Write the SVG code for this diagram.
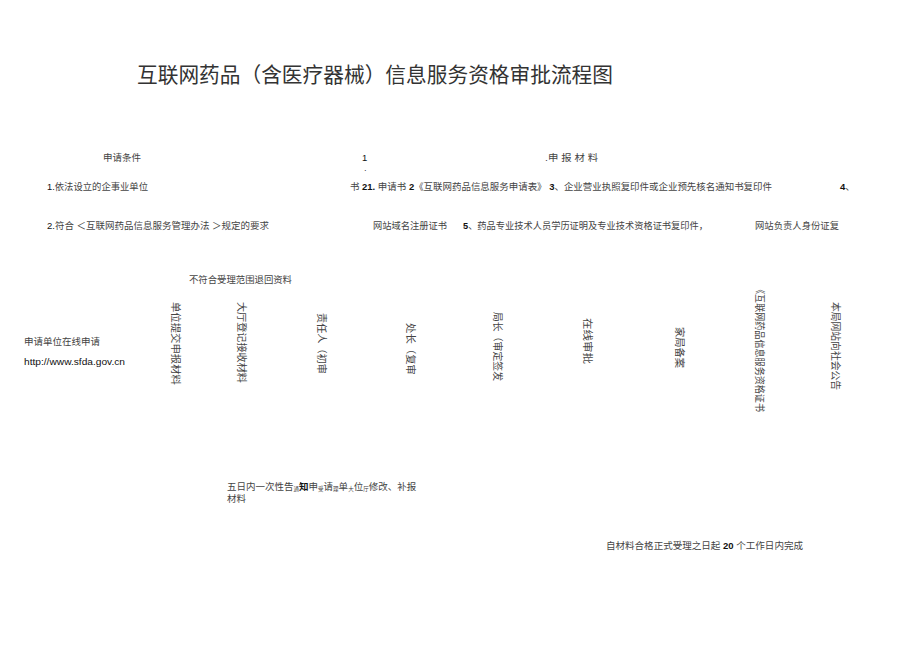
<svg xmlns="http://www.w3.org/2000/svg" width="920" height="651" viewBox="0 0 920 651">
<style>
text{font-family:"Liberation Sans","Noto Sans CJK SC",sans-serif;fill:#444;font-size:9.5px}
.title{font-size:21px;fill:#333}
.v{font-size:10px}
.s{font-size:5.5px}
.b{font-weight:bold;fill:#111}
.n{fill:#111}
</style>
<rect width="920" height="651" fill="#fff"/>
<g id="title"><text class="title" x="137" y="82" textLength="476" lengthAdjust="spacingAndGlyphs">互联网药品（含医疗器械）信息服务资格审批流程图</text></g>
<g id="conditions">
<text x="103" y="160.5">申请条件</text>
<text x="47" y="189.5" textLength="101" lengthAdjust="spacingAndGlyphs"><tspan class="n">1.</tspan>依法设立的企事业单位</text>
<text x="47" y="228.5" textLength="222" lengthAdjust="spacingAndGlyphs"><tspan class="n">2.</tspan>符合 ＜互联网药品信息服务管理办法 ＞规定的要求</text>
</g>
<g id="materials">
<text class="n" x="362" y="161">1</text>
<text x="364" y="171" font-size="6">.</text>
<text x="545" y="160.5" textLength="53" lengthAdjust="spacingAndGlyphs">.申 报 材 料</text>
<text x="350" y="189.5" textLength="422" lengthAdjust="spacingAndGlyphs">书 <tspan class="b">21.</tspan> 申请书 <tspan class="b">2</tspan>《互联网药品信息服务申请表》 <tspan class="b">3</tspan>、企业营业执照复印件或企业预先核名通知书复印件</text>
<text x="840" y="189.5"><tspan class="b">4</tspan>、</text>
<text x="373" y="229" textLength="74" lengthAdjust="spacingAndGlyphs">网站域名注册证书</text>
<text x="463" y="229" textLength="245" lengthAdjust="spacingAndGlyphs"><tspan class="b">5</tspan>、药品专业技术人员学历证明及专业技术资格证书复印件，</text>
<text x="755" y="229" textLength="84" lengthAdjust="spacingAndGlyphs">网站负责人身份证复</text>
</g>
<g id="reject"><text x="189" y="282.5" textLength="103" lengthAdjust="spacingAndGlyphs">不符合受理范围退回资料</text></g>
<g id="online">
<text x="24" y="344.5">申请单位在线申请</text>
<text class="n" x="24" y="364.5" textLength="101" lengthAdjust="spacingAndGlyphs">http://www.sfda.gov.cn</text>
</g>
<g id="step1"><text class="v" transform="translate(172,302) rotate(90)" textLength="83" lengthAdjust="spacingAndGlyphs">单位提交申报材料</text></g>
<g id="step2"><text class="v" transform="translate(238,302) rotate(90)" textLength="81" lengthAdjust="spacingAndGlyphs">大厅登记接收材料</text></g>
<g id="step3"><text class="v" transform="translate(318,313) rotate(90)" textLength="61" lengthAdjust="spacingAndGlyphs">责任人（初审</text></g>
<g id="step4"><text class="v" transform="translate(407,323) rotate(90)" textLength="52" lengthAdjust="spacingAndGlyphs">处长（复审</text></g>
<g id="step5"><text class="v" transform="translate(494,312) rotate(90)" textLength="69" lengthAdjust="spacingAndGlyphs">局长（审定签发</text></g>
<g id="step6"><text class="v" transform="translate(584,318) rotate(90)" textLength="46" lengthAdjust="spacingAndGlyphs">在线审批</text></g>
<g id="step7"><text class="v" transform="translate(676,327) rotate(90)" textLength="41" lengthAdjust="spacingAndGlyphs">家局备案</text></g>
<g id="step8"><text class="v" transform="translate(756,285) rotate(90)" textLength="127" lengthAdjust="spacingAndGlyphs">《互联网药品信息服务资格证书</text></g>
<g id="step9"><text class="v" transform="translate(832,302) rotate(90)" textLength="88" lengthAdjust="spacingAndGlyphs">本局网站向社会公告</text></g>
<g id="notice">
<text x="227" y="490">五日内一次性告<tspan class="s" dy="1">通</tspan><tspan class="b" dy="-1">知</tspan>申<tspan class="s" dy="1">受</tspan><tspan dy="-1">请</tspan><tspan class="s" dy="1">理</tspan><tspan dy="-1">单</tspan><tspan class="s" dy="1">大</tspan><tspan dy="-1">位</tspan><tspan class="s" dy="1">厅</tspan><tspan dy="-1">修改、补报</tspan></text>
<text x="227" y="502">材料</text>
</g>
<g id="deadline"><text x="606" y="548.5" textLength="197" lengthAdjust="spacingAndGlyphs">自材料合格正式受理之日起 <tspan class="b">20</tspan> 个工作日内完成</text></g>
<g id="connectors"></g>
</svg>
